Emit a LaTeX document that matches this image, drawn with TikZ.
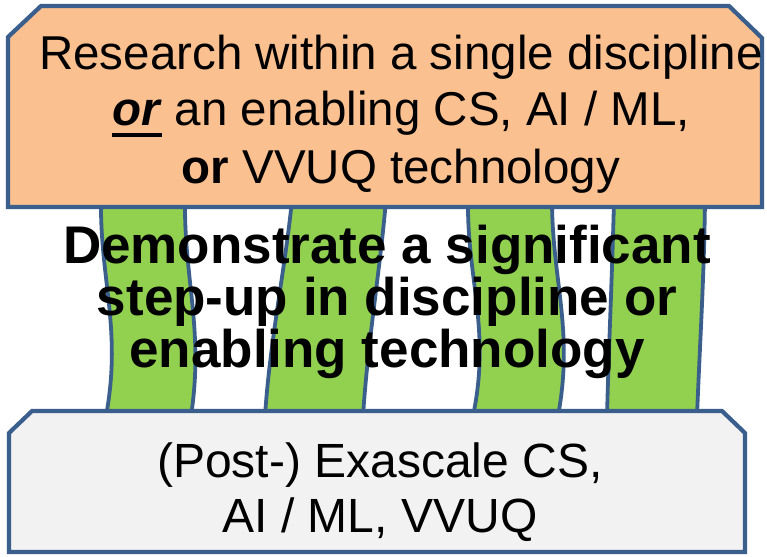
\documentclass[tikz,border=0pt]{standalone}
\usepackage{fontspec}
\setmainfont{Liberation Sans}
\definecolor{edgeblue}{HTML}{3B5F8C}
\definecolor{capfill}{HTML}{FAC090}
\definecolor{basefill}{HTML}{F2F2F2}
\definecolor{pillargreen}{HTML}{92D050}
% thick underline placed below the baseline
\newcommand\thickuline[1]{\setbox0=\hbox{#1}\rlap{\rule[-11.5pt]{\wd0}{4.5pt}}\box0\relax}
\begin{document}
\begin{tikzpicture}[x=1pt,y=-1pt,
  pillar/.style={fill=pillargreen, draw=edgeblue, line width=3.8pt, line join=round},
  slab/.style={draw=edgeblue, line width=4.2pt, line join=miter},
  captext/.style={anchor=base, inner sep=0pt, font=\fontsize{47.5}{57}\selectfont},
  midtext/.style={anchor=base, inner sep=0pt, font=\fontsize{53}{52}\selectfont\bfseries},
  basetext/.style={anchor=base, inner sep=0pt, font=\fontsize{48}{55}\selectfont}]
\useasboundingbox (0,0) rectangle (767,556);
\fill[white] (0,0) rectangle (767,556);

% pillars
\draw[pillar] (101,200) .. controls (100,280) and (122,330) .. (106,416)
  -- (191,416) .. controls (204,330) and (184,280) .. (185,200) -- cycle;
\draw[pillar] (292,200) .. controls (285,270) and (270,340) .. (265,416)
  -- (363,416) .. controls (368,340) and (380,270) .. (386,200) -- cycle;
\draw[pillar] (468,200) .. controls (467,280) and (491,330) .. (473,416)
  -- (558,416) .. controls (574,330) and (552,280) .. (552,200) -- cycle;
\draw[pillar] (614,200) .. controls (612,280) and (609,340) .. (607,416)
  -- (697,416) .. controls (700,340) and (704,280) .. (705,200) -- cycle;

% capital block and base block
\draw[slab, fill=capfill] (8,37) -- (41,6) -- (729,6) -- (762,38) -- (762,207) -- (8,207) -- cycle;
\draw[slab, fill=basefill] (9,433) -- (32,411) -- (722,411) -- (745,433) -- (745,552) -- (9,552) -- cycle;

% capital text
\node[captext] (cap1) at (401,70) {Research within a single discipline};
\node[captext] (cap2) at (401,126) {\thickuline{\textbf{\textit{or}}} an enabling CS, AI / ML,};
\node[captext] (cap3) at (401,183) {\textbf{or} VVUQ technology};

% middle text
\node[midtext] (mid1) at (387,263) {Demonstrate a significant};
\node[midtext] (mid2) at (387,315) {step-up in discipline or};
\node[midtext] (mid3) at (387,367) {enabling technology};

% base text
\node[basetext] (base1) at (380,477) {(Post-) Exascale CS,};
\node[basetext] (base2) at (380,532) {AI / ML, VVUQ};
\end{tikzpicture}
\end{document}
